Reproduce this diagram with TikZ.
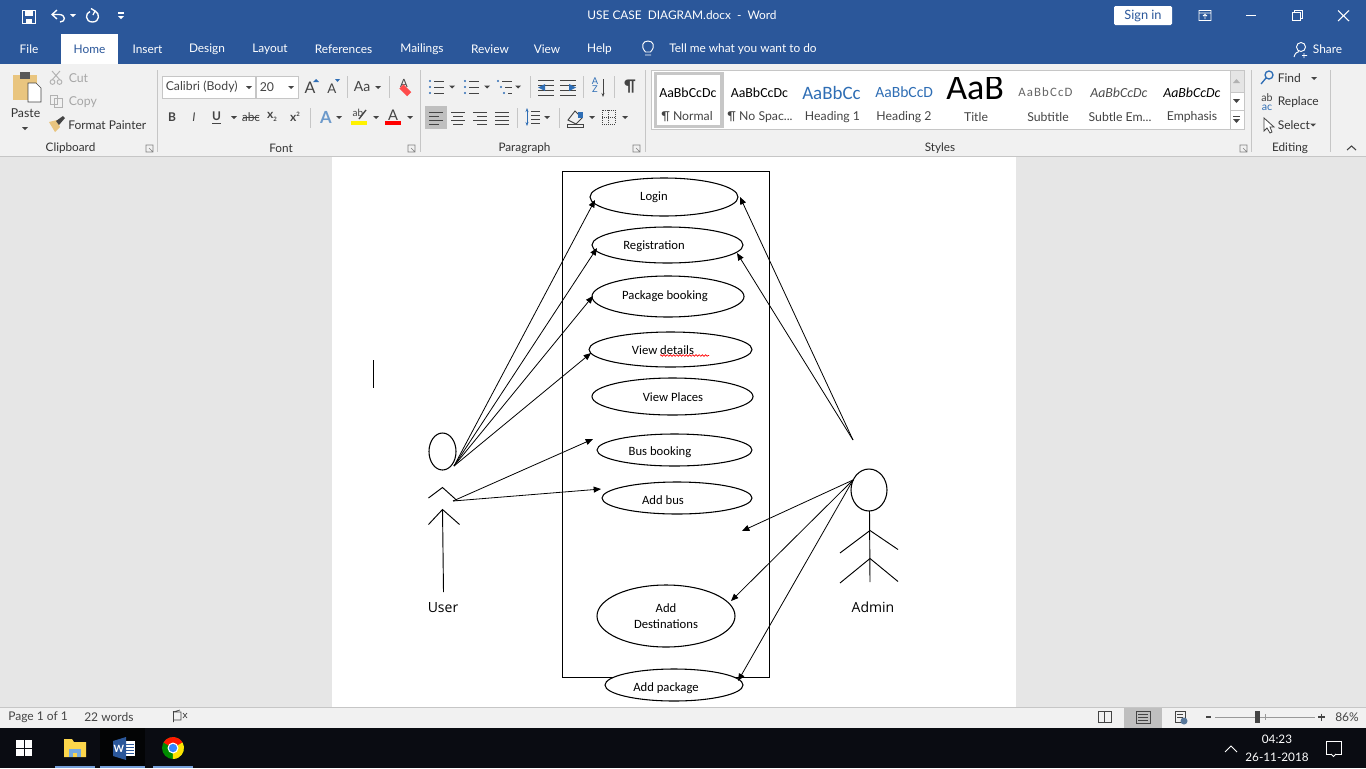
\documentclass[tikz,border=0pt]{standalone}
\usepackage{fontspec}
\setmainfont{Carlito}
\newfontfamily\ui{Lato}
\newfontfamily\act{Open Sans}
\usetikzlibrary{arrows.meta,decorations.pathmorphing,shapes.geometric}
\definecolor{wordblue}{HTML}{2B579A}
\definecolor{ribbon}{HTML}{F1F1F1}
\definecolor{docbg}{HTML}{E6E6E6}
\definecolor{taskbar}{HTML}{0A0C12}
\definecolor{uitext}{HTML}{444444}
\definecolor{uiline}{HTML}{C6C6C6}
\definecolor{iconblue}{HTML}{2F6EB5}
\definecolor{pastetan}{HTML}{E9C57F}
\tikzset{
  x=0.75pt,y=-0.75pt,
  usecase/.style={draw=black,line width=0.8pt,fill=white,ellipse,inner sep=0pt,outer sep=0pt},
  uclabel/.style={font=\fontsize{9.5}{11}\selectfont,inner sep=0pt,text=black,align=center},
  actorlabel/.style={font=\act\fontsize{10.5}{12}\selectfont,inner sep=0pt,text=black},
  limb/.style={draw=black,line width=0.7pt},
  flow/.style={draw=black,line width=0.6pt,-{Triangle[length=5.5pt,width=4.5pt]}},
  tab/.style={font=\ui\fontsize{8.9}{11}\selectfont,text=white,inner sep=0pt,yshift=-0.75pt},
  rib/.style={font=\ui\fontsize{9.2}{10}\selectfont,text=uitext,inner sep=0pt,yshift=-0.75pt},
  ribdark/.style={font=\ui\fontsize{9}{10}\selectfont,text=black!80,inner sep=0pt,yshift=-0.75pt},
  group/.style={font=\ui\fontsize{8.8}{10}\selectfont,text=black!80,inner sep=0pt,yshift=-0.75pt},
  gray/.style={font=\ui\fontsize{9.2}{10}\selectfont,text=black!35,inner sep=0pt,yshift=-0.75pt},
  sep/.style={draw=uiline,line width=0.6pt},
  stat/.style={font=\ui\fontsize{9}{10}\selectfont,text=uitext,inner sep=0pt,yshift=-0.75pt},
  wicon/.style={draw=white,line width=1pt},
}
\begin{document}
\begin{tikzpicture}
\useasboundingbox (0,0) rectangle (1366,768);
% window bands
\fill[wordblue] (0,0) rectangle (1366,64);
\fill[ribbon] (0,64) rectangle (1366,156);
\fill[docbg] (0,156) rectangle (1366,707);
\fill[uiline] (0,155.5) rectangle (1366,156.5);
\fill[white] (332,157) rectangle (1016,707);
\fill[ribbon] (0,707) rectangle (1366,728);
\fill[uiline] (0,706.5) rectangle (1366,707.5);
\fill[taskbar] (0,728) rectangle (1366,768);
\fill[white] (61,34) rectangle (118,64);
% title bar icons
\draw[wicon] (22.5,10.5) rectangle (35.5,23.5);
\fill[white] (25,11) rectangle (33,15.5);
\fill[white] (26,19) rectangle (32,23);
\draw[wicon] (57,10) -- (52,14.5) -- (57,19) (52,14.5) -- (59,14.5) .. controls (66,14.5) and (66,22) .. (60,22);
\fill[white] (70,14) -- (76,14) -- (73,17) -- cycle;
\draw[wicon] (90,11.5) .. controls (85,13) and (85,22) .. (92.5,22) .. controls (100,22) and (100,13) .. (95,11);
\draw[wicon] (91,8.5) -- (95,11) -- (93,15);
\draw[white,line width=0.8pt] (118,13) -- (124,13);
\fill[white] (118,16) -- (124,16) -- (121,19) -- cycle;
\node[tab,yshift=0.75pt] (title) at (682,15.5) {USE CASE~~DIAGRAM.docx~~-~~Word};
\fill[white,rounded corners=1pt] (1114,6) rectangle (1172,25);
\node[font=\ui\fontsize{9.6}{11}\selectfont,text=wordblue,inner sep=0pt] (signin) at (1143,16) {Sign in};
\draw[white,line width=0.7pt] (1199,10.5) rectangle (1211,20.5) (1199,13) -- (1211,13) (1205,19) -- (1205,14.5) (1203,16) -- (1205,14.5) -- (1207,16);
\draw[white,line width=0.8pt] (1246,15.5) -- (1256,15.5);
\draw[white,line width=0.7pt] (1292,12) rectangle (1300,20.5) (1294,12) -- (1294,10) -- (1302,10) -- (1302,18) -- (1300,18);
\draw[white,line width=0.8pt] (1338,10.5) -- (1349,21) (1349,10.5) -- (1338,21);
% tabs
\node[tab] (tFile) at (29,48) {File};
\node[tab,text=wordblue] (tHome) at (89.5,48) {Home};
\node[tab] (tInsert) at (147.5,48) {Insert};
\node[tab] (tDesign) at (207,48) {Design};
\node[tab] (tLayout) at (270,48) {Layout};
\node[tab] (tRefs) at (343.5,48) {References};
\node[tab] (tMail) at (422,48) {Mailings};
\node[tab] (tReview) at (490,48) {Review};
\node[tab] (tView) at (547,48) {View};
\node[tab] (tHelp) at (599.5,48) {Help};
\draw[white,line width=0.7pt] (645,55) -- (651,55) (645.5,52) .. controls (640,46) and (643,41) .. (648,41) .. controls (653,41) and (656,46) .. (650.5,52) -- cycle;
\node[tab] (tTell) at (743,48) {Tell me what you want to do};
\draw[white,line width=0.7pt] (1301,47) circle[radius=4.5];
\draw[white,line width=0.7pt] (1294,57) .. controls (1295,53) and (1297,52) .. (1299,51.5) (1304,53) -- (1304,58) (1302,55.5) -- (1307,55.5);
\node[tab] (tShare) at (1327.5,48) {Share};
% clipboard group
\fill[pastetan] (13,75) rectangle (37,100);
\fill[gray!70!black] (20,72) rectangle (30,79);
\path[fill=white,draw=uitext,line width=0.5pt] (28,83) -- (36,83) -- (41,88) -- (41,102) -- (28,102) -- cycle;
\node[rib,text=black!80] (paste) at (25.5,112) {Paste};
\fill[uitext] (22,127) -- (28,127) -- (25,130) -- cycle;
\draw[black!30,line width=0.7pt] (52,71) -- (60,80) (60,71) -- (52,80);
\draw[black!30,line width=0.7pt] (52.5,82) circle[radius=2.4] (59.5,82) circle[radius=2.4];
\node[gray,anchor=west] (cut) at (68.5,77.5) {Cut};
\draw[black!30,line width=0.7pt] (50,95) rectangle (57,104) (54,98) rectangle (62,107);
\node[gray,anchor=west] (copy) at (68.5,101) {Copy};
\fill[pastetan] (49,122) -- (57,120) -- (60,127) -- (55,132) -- cycle;
\fill[uitext] (56,121) -- (63,116) -- (65,118) -- (59,125) -- cycle;
\node[ribdark,anchor=west] (painter) at (68,124) {Format Painter};
\node[group] (gClip) at (70.5,147) {Clipboard};
\draw[sep] (157,70) -- (157,152);
% launchers
\foreach \lx in {150,412,637,1244}{\draw[black!50,line width=0.5pt] (\lx-4,145) rectangle (\lx+3,152) (\lx-1,148) -- (\lx+3,152);}
% font group
\path[fill=white,draw=uiline,line width=0.7pt] (162,76) rectangle (255.5,98);
\path[fill=white,draw=uiline,line width=0.7pt] (256,76) rectangle (298.5,98);
\node[rib,anchor=west] (fontname) at (165.5,86) {Calibri (Body)};
\node[rib,anchor=west] (fontsize) at (259.5,86) {20};
\fill[uitext] (246,86) -- (252,86) -- (249,89) -- cycle;
\fill[uitext] (288,86) -- (294,86) -- (291,89) -- cycle;
\node[font=\ui\fontsize{12}{13}\selectfont,text=uitext,inner sep=0pt] (growA) at (310,88) {A};
\fill[iconblue] (313,82) -- (319,82) -- (316,79) -- cycle;
\node[font=\ui\fontsize{10}{11}\selectfont,text=uitext,inner sep=0pt] (shrinkA) at (332,89) {A};
\fill[iconblue] (335,79) -- (340,79) -- (337.5,82) -- cycle;
\draw[sep] (347,76) -- (347,98);
\node[font=\ui\fontsize{10.5}{11}\selectfont,text=uitext,inner sep=0pt] (caseAa) at (362,87) {Aa};
\fill[uitext] (375,86) -- (381,86) -- (378,89) -- cycle;
\draw[sep] (389,76) -- (389,98);
\node[font=\ui\fontsize{8.5}{10}\selectfont,text=uitext,inner sep=0pt] (clearA) at (404,83) {A};
\fill[red!60!pink,rotate around={-45:(405,90)}] (400,87) rectangle (411,93);
\node[font=\ui\bfseries\fontsize{9}{10}\selectfont,text=uitext,inner sep=0pt] (fB) at (172,117) {B};
\node[font=\ui\itshape\fontsize{9}{10}\selectfont,text=uitext,inner sep=0pt] (fI) at (194,117) {I};
\node[font=\ui\bfseries\fontsize{9}{10}\selectfont,text=uitext,inner sep=0pt] (fU) at (216.5,116) {U};
\draw[uitext,line width=0.8pt] (212,123.5) -- (221,123.5);
\fill[uitext] (231,116) -- (237,116) -- (234,119) -- cycle;
\node[font=\ui\fontsize{9}{10}\selectfont,text=uitext,inner sep=0pt] (fS) at (251,117) {abc};
\draw[uitext,line width=0.5pt] (243,117.5) -- (259,117.5);
\node[font=\ui\bfseries\fontsize{9}{10}\selectfont,text=uitext,inner sep=0pt] (fSub) at (272,117) {x\raisebox{-2pt}{\fontsize{4.5}{5}\selectfont 2}};
\node[font=\ui\bfseries\fontsize{9}{10}\selectfont,text=uitext,inner sep=0pt] (fSup) at (295,117) {x\raisebox{4pt}{\fontsize{4.5}{5}\selectfont 2}};
\draw[sep] (310,108) -- (310,128);
\node[font=\ui\bfseries\fontsize{12.5}{13}\selectfont,text=iconblue!70,inner sep=0pt] (fxA) at (326,117) {A};
\fill[uitext] (336,116) -- (342,116) -- (339,119) -- cycle;
\node[font=\ui\fontsize{7.5}{8}\selectfont,text=uitext,inner sep=0pt] (hlab) at (358,113) {ab};
\draw[uitext,line width=1pt] (359,119) -- (366,110);
\fill[yellow] (351,121) rectangle (367,125);
\fill[uitext] (373,116) -- (379,116) -- (376,119) -- cycle;
\node[font=\ui\fontsize{11}{11}\selectfont,text=uitext,inner sep=0pt] (colA) at (393,115) {A};
\fill[red] (385,121) rectangle (401,125);
\fill[uitext] (407,116) -- (413,116) -- (410,119) -- cycle;
\node[group] (gFont) at (281,147) {Font};
\draw[sep] (420,70) -- (420,152);
% paragraph group
\foreach \px in {430,465}{\foreach \i in {0,1,2}{\fill[iconblue] (\px,81+\i*6) circle[radius=1.2]; \draw[uitext,line width=0.6pt] (\px+4,81+\i*6) -- (\px+14,81+\i*6);}}
\fill[uitext] (449,85.5) -- (455,85.5) -- (452,88.5) -- cycle;
\fill[uitext] (484,85.5) -- (490,85.5) -- (487,88.5) -- cycle;
\foreach \i/\o in {0/0,1/3,2/6}{\fill[iconblue] (498+\o,81+\i*6) circle[radius=1.1]; \draw[uitext,line width=0.6pt] (502+\o,81+\i*6) -- (512,81+\i*6);}
\fill[uitext] (515,85.5) -- (521,85.5) -- (518,88.5) -- cycle;
\draw[sep] (530,76) -- (530,98);
\foreach \lx in {538,560}{\foreach \i in {0,1,2,3}{\draw[uitext,line width=0.6pt] (\lx,80+\i*5) -- (\lx+16,80+\i*5);}}
\fill[iconblue] (538,87.5) -- (545,84) -- (545,91) -- cycle;
\fill[iconblue] (576,87.5) -- (569,84) -- (569,91) -- cycle;
\draw[sep] (583,76) -- (583,98);
\node[font=\ui\fontsize{7}{7}\selectfont,text=iconblue,inner sep=0pt,align=center] (sortAZ) at (595,85) {A\\[-1pt]Z};
\draw[uitext,line width=0.6pt,-{Stealth[length=3pt]}] (603,79) -- (603,97);
\draw[sep] (614,76) -- (614,98);
\node[font=\ui\bfseries\fontsize{12}{12}\selectfont,text=uitext,inner sep=0pt] (pilcrow) at (630,87) {¶};
\fill[black!25] (425,106) rectangle (447,129);
\foreach \lx/\mode in {429/0,451/1,473/2,495/3}{\foreach \i in {0,1,2,3}{
  \pgfmathsetmacro{\w}{(\mode==3||mod(\i,2)==0)?14:10}
  \pgfmathsetmacro{\st}{\mode==0?0:(\mode==1?(14-\w)/2:(\mode==2?14-\w:0))}
  \draw[uitext,line width=0.6pt] (\lx+\st,112+\i*4) -- (\lx+\st+\w,112+\i*4);}}
\draw[sep] (517,108) -- (517,128);
\draw[iconblue,line width=0.7pt,{Stealth[length=3pt]}-{Stealth[length=3pt]}] (527,108) -- (527,126);
\foreach \i in {0,1,2,3}{\draw[uitext,line width=0.6pt] (531,111+\i*4) -- (540,111+\i*4);}
\fill[uitext] (544,116) -- (550,116) -- (547,119) -- cycle;
\draw[sep] (559,108) -- (559,128);
\draw[uitext,line width=0.7pt] (568,120) -- (575,111) -- (582,118) -- (576,124) -- cycle;
\fill[iconblue] (578,112) rectangle (583,118);
\draw[uitext,line width=0.7pt] (567,124.5) rectangle (583,127);
\fill[uitext] (589,116) -- (595,116) -- (592,119) -- cycle;
\draw[uitext,line width=0.5pt,densely dotted] (602,110) rectangle (615,124) (608.5,110) -- (608.5,124) (602,117) -- (615,117);
\fill[uitext] (622,116) -- (628,116) -- (625,119) -- cycle;
\node[group] (gPara) at (524.5,147) {Paragraph};
\draw[sep] (645,70) -- (645,152);
% styles gallery
\path[fill=white,draw=uiline,line width=0.7pt] (651.5,70) rectangle (1244,129);
\path[draw=black!22,line width=2.4pt] (655.5,73.5) rectangle (722,126.5);
\begin{scope}
\clip (659,75) rectangle (717.5,108);
\node[font=\fontsize{10.4}{11}\selectfont,text=black,inner sep=0pt,anchor=west] (s1) at (659,92.5) {AaBbCcDc};
\end{scope}
\begin{scope}
\clip (730,75) rectangle (789.5,108);
\node[font=\fontsize{10.4}{11}\selectfont,text=black,inner sep=0pt,anchor=west] (s2) at (730.5,92.5) {AaBbCcDc};
\end{scope}
\begin{scope}
\clip (800,75) rectangle (861,108);
\node[font=\fontsize{14.2}{15}\selectfont,text=iconblue,inner sep=0pt,anchor=west] (s3) at (802,92.5) {AaBbCc};
\end{scope}
\begin{scope}
\clip (874,75) rectangle (933,108);
\node[font=\fontsize{11.7}{13}\selectfont,text=iconblue,inner sep=0pt,anchor=west] (s4) at (875,92) {AaBbCcD};
\end{scope}
\begin{scope}
\clip (940,77) rectangle (1002,108);
\node[font=\fontsize{27}{28}\selectfont,text=black,inner sep=0pt,anchor=west] (s5) at (946,88) {AaB};
\end{scope}
\begin{scope}
\clip (1015,75) rectangle (1078,108);
\node[font=\fontsize{9.6}{11}\selectfont\addfontfeature{LetterSpace=9},text=black!60,inner sep=0pt,anchor=west] (s6) at (1018,92.5) {AaBbCcD};
\end{scope}
\begin{scope}
\clip (1085,75) rectangle (1150,108);
\node[font=\itshape\fontsize{10.4}{11}\selectfont,text=black!70,inner sep=0pt,anchor=west] (s7) at (1090,92.5) {AaBbCcDc};
\end{scope}
\begin{scope}
\clip (1158,75) rectangle (1222,108);
\node[font=\itshape\fontsize{10.4}{11}\selectfont,text=black,inner sep=0pt,anchor=west] (s8) at (1163,92.5) {AaBbCcDc};
\end{scope}
\node[rib] (l1) at (687,116) {¶ Normal};
\node[rib] (l2) at (760,116) {¶ No Spac...};
\node[rib] (l3) at (832.5,116) {Heading 1};
\node[rib] (l4) at (904,116) {Heading 2};
\node[rib] (l5) at (976,116) {Title};
\node[rib] (l6) at (1048,116) {Subtitle};
\node[rib] (l7) at (1120,116) {Subtle Em...};
\node[rib] (l8) at (1192,116) {Emphasis};
% gallery scroller
\fill[black!10] (1230,70.5) rectangle (1243.5,92);
\draw[uiline,line width=0.6pt] (1230,70) -- (1230,129) (1230,92) -- (1244,92) (1230,110) -- (1244,110);
\fill[black!30] (1233,83) -- (1240,83) -- (1236.5,79) -- cycle;
\fill[uitext] (1233,99) -- (1240,99) -- (1236.5,103) -- cycle;
\draw[uitext,line width=0.6pt] (1233,116) -- (1240,116);
\fill[uitext] (1233,119) -- (1240,119) -- (1236.5,123) -- cycle;
\node[group] (gStyles) at (940,147) {Styles};
\draw[sep] (1251,70) -- (1251,152);
% editing group
\draw[iconblue,line width=1pt] (1269,75) circle[radius=4] (1266,78) -- (1261,84);
\node[ribdark,anchor=west] (find) at (1277.5,77.5) {Find};
\fill[uitext] (1311,77) -- (1317,77) -- (1314,80) -- cycle;
\node[font=\ui\fontsize{8}{7.5}\selectfont,text=iconblue,inner sep=0pt,align=center] (replIcon) at (1267,102) {\textcolor{uitext}{ab}\\[-1pt]ac};
\node[ribdark,anchor=west] (replace) at (1277.5,101) {Replace};
\draw[uitext,line width=0.6pt,fill=white] (1264,118) -- (1264,131) -- (1267,128) -- (1270,133) -- (1272,132) -- (1270,127) -- (1274,127) -- cycle;
\node[ribdark,anchor=west] (select) at (1277.5,124) {Select};
\fill[uitext] (1310,123.5) -- (1316,123.5) -- (1313,126.5) -- cycle;
\node[group] (gEdit) at (1290,147) {Editing};
\draw[sep] (1330,70) -- (1330,152);
\draw[uitext,line width=0.8pt] (1347,150) -- (1351.5,146) -- (1356,150);
% document: caret
\draw[black,line width=0.8pt] (373.5,360) -- (373.5,388);
% ---------- use-case diagram ----------
\node[draw=black,line width=0.8pt,minimum width=207*0.75pt,minimum height=506*0.75pt,inner sep=0pt,outer sep=0pt,anchor=north west] (system) at (562.5,171.5) {};
\foreach \n/\xa/\ya/\xb/\yb in {
  login/590/178/738/216,
  registration/592/227/743/263,
  package/592/276/744/317,
  details/589/332/752/367,
  places/592/378/753/415,
  busbook/597/434/752/466,
  addbus/602/482/752/514,
  dest/597/585/735/647,
  addpkg/605/669/743/701}{
  \pgfmathsetmacro{\rw}{(\xb-\xa)*0.75}
  \pgfmathsetmacro{\rh}{(\yb-\ya)*0.75}
  \node[usecase,minimum width=\rw pt,minimum height=\rh pt] (\n) at ({(\xa+\xb)/2},{(\ya+\yb)/2}) {};
}
\node[uclabel] (tLogin) at (654,197) {Login};
\node[uclabel] (tReg) at (654,246) {Registration};
\node[uclabel] (tPkg) at (665,296) {Package booking};
\node[uclabel] (tDet) at (663,350) {View details};
\draw[red,line width=0.5pt,decorate,decoration={zigzag,amplitude=0.6pt,segment length=2.4pt}] (660,355.5) -- (709,355.5);
\node[uclabel] (tPl) at (673,397) {View Places};
\node[uclabel] (tBus) at (660,452) {Bus booking};
\node[uclabel] (tAdd) at (663,500) {Add bus};
\node[uclabel] (tDest) at (666,616) {Add\\[1.2pt]Destinations};
\node[uclabel] (tApk) at (666,688) {Add package};
% user actor
\node[draw=black,line width=0.8pt,ellipse,minimum width=27*0.75pt,minimum height=37*0.75pt,inner sep=0pt] (userhead) at (442.5,451.5) {};
\coordinate (uHand) at (454,466);
\coordinate (uHip) at (453,501);
\draw[limb] (428.5,498) -- (442.5,487.5) -- (457,500.5);
\draw[limb] (428.5,524.5) -- (442.5,509.5) -- (459.5,524.5);
\draw[limb] (442.5,509.5) -- (443.5,592);
\node[actorlabel] (userlabel) at (443,607.5) {User};
% admin actor
\node[draw=black,line width=0.8pt,ellipse,minimum width=36*0.75pt,minimum height=42*0.75pt,inner sep=0pt] (adminhead) at (869,490) {};
\coordinate (aTop) at (853,440);
\coordinate (aHand) at (853,480);
\draw[limb] (869.5,511) -- (870,582);
\draw[limb] (840,553) -- (870,530.5) -- (898,549.5);
\draw[limb] (840,583) -- (870,558.5) -- (898,581.5);
\node[actorlabel] (adminlabel) at (873,607) {Admin};
% free arrow ends
\coordinate (eLogin) at (595,200);
\coordinate (eReg) at (597,248);
\coordinate (ePkg) at (593,296);
\coordinate (eDet) at (591,353);
\coordinate (eBus) at (593,439);
\coordinate (eAdd) at (601,489);
\coordinate (aLogin) at (740,197);
\coordinate (aReg) at (737,253);
\coordinate (aFree) at (742,531);
\coordinate (aDest) at (731,601);
\coordinate (aPkg) at (738,681);
\foreach \e in {eLogin,eReg,ePkg,eDet}{\draw[flow] (uHand) -- (\e);}
\foreach \e in {eBus,eAdd}{\draw[flow] (uHip) -- (\e);}
\foreach \e in {aLogin,aReg}{\draw[flow] (aTop) -- (\e);}
\foreach \e in {aFree,aDest,aPkg}{\draw[flow] (aHand) -- (\e);}
% status bar
\node[stat,anchor=west] (page) at (8,716) {Page 1 of 1};
\node[stat,anchor=west] (words) at (84,716) {22 words};
\draw[uitext,line width=0.5pt] (173.5,711) -- (173.5,722) (173,712) -- (180,710) (174,712) -- (181,712) -- (181,720) -- (174,720);
\draw[uitext,line width=0.5pt] (183,713) -- (187,718) (187,713) -- (183,718);
\draw[uitext,line width=0.5pt] (1098,711) rectangle (1111,722) (1104.5,711) -- (1104.5,722);
\fill[black!25] (1124,708) rectangle (1162,728);
\draw[uitext,line width=0.7pt] (1136,711.5) rectangle (1150,723.5) (1138,714.5) -- (1148,714.5) (1138,717.5) -- (1148,717.5) (1138,720.5) -- (1148,720.5);
\draw[uitext,line width=0.5pt] (1175,711) rectangle (1185,722) (1177,714) -- (1183,714) (1177,717) -- (1183,717);
\fill[iconblue!50!gray] (1184,721) circle[radius=3.5];
\draw[uitext,line width=0.9pt] (1206,717) -- (1211,717);
\draw[black!40,line width=0.6pt] (1215,717) -- (1315,717);
\fill[uitext] (1255,711) rectangle (1259.5,723);
\draw[black!40,line width=0.6pt] (1265.5,714) -- (1265.5,720);
\draw[uitext,line width=0.9pt] (1318,717) -- (1325,717) (1321.5,713.5) -- (1321.5,720.5);
\node[stat] (zoomv) at (1347,716) {86\%};
% taskbar
\foreach \i/\j in {0/0,1/0,0/1,1/1}{\fill[white] ({16+\i*8.5},{740+\j*8.5}) rectangle ({23.5+\i*8.5},{747.5+\j*8.5});}
\fill[black!70!taskbar] (100,728) rectangle (145,768);
\fill[yellow!60!orange!70!white] (64,739) -- (72,739) -- (74,742) -- (86,742) -- (86,757) -- (64,757) -- cycle;
\fill[cyan!60!blue!55!white] (69,749) rectangle (81,757);
\fill[yellow!60!orange!70!white] (73,753) rectangle (77,757);
\fill[cyan!50!blue!55!white] (55,766) rectangle (95,768);
\fill[cyan!50!blue!55!white] (100,766) rectangle (145,768);
\fill[cyan!50!blue!55!white] (153,766) rectangle (193,768);
\fill[white] (122,741) rectangle (135,756);
\foreach \i in {0,1,2,3}{\fill[wordblue] (126,743.5+\i*3) rectangle (134,744.5+\i*3);}
\fill[wordblue] (113,741) -- (126,737) -- (126,760) -- (113,756) -- cycle;
\node[font=\ui\bfseries\fontsize{7.5}{8}\selectfont,text=white,inner sep=0pt] (wordW) at (119,748.5) {W};
\fill[green!55!black] (173,748) circle[radius=11];
\fill[red!80!orange] (173,748) -- (163.5,742.5) arc[start angle=210,end angle=330,radius=11] -- cycle;
\fill[yellow!85!orange] (173,748) -- (182.5,742.5) arc[start angle=-30,end angle=90,radius=11] -- cycle;
\fill[white] (173,748) circle[radius=5.5];
\fill[blue!60!cyan!80] (173,748) circle[radius=4.2];
\draw[white,line width=0.7pt] (1225,752) -- (1231,746) -- (1237,752);
\node[font=\ui\fontsize{8.8}{10}\selectfont,text=white,inner sep=0pt] (clock) at (1277,739) {04:23};
\node[font=\ui\fontsize{8.8}{10}\selectfont,text=white,inner sep=0pt] (cdate) at (1277,757) {26-11-2018};
\draw[white,line width=0.7pt] (1326,741) rectangle (1341,754);
\path[fill=taskbar] (1331,754) -- (1333.5,756.5) -- (1336,754) -- cycle;
\draw[white,line width=0.7pt] (1331,754) -- (1333.5,756.5) -- (1336,754);
\end{tikzpicture}
\end{document}
